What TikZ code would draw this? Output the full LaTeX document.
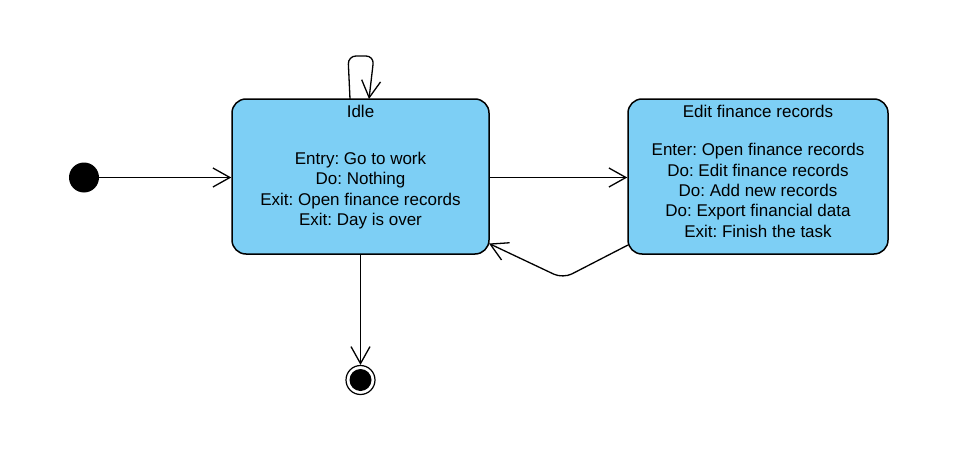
\documentclass[tikz,border=0pt]{standalone}
\usepackage{fontspec}
\setmainfont{Liberation Sans}
\usetikzlibrary{arrows.meta}
\definecolor{stateblue}{RGB}{125,207,245}
\tikzset{
  statebox/.style={draw=black, line width=1.5pt, fill=stateblue, rounded corners=14pt, minimum width=257pt, minimum height=155pt, inner sep=0pt},
  txt/.style={font=\frenchspacing\fontsize{17}{20.3}\selectfont, align=center, inner sep=0pt, anchor=base},
  body/.style={font=\frenchspacing\fontsize{17}{20.3}\selectfont, align=center, inner sep=0pt},
  trans/.style={draw=black, line width=1.3pt, -{Straight Barb[length=17pt,width=19pt,line width=1.3pt]}}
}
\begin{document}
\begin{tikzpicture}[x=1pt,y=-1pt]
\useasboundingbox (0,0) rectangle (978,471);
% states
\node[statebox] (idle) at (360.5,176.5) {};
\node[statebox, minimum width=260pt] (edit) at (758,176.5) {};
\node[txt] (idletitle) at (360.5,117) {Idle};
\node[body] (idlebody) at (360.5,190.5) {Entry: Go to work\\Do: Nothing\\Exit: Open finance records\\Exit: Day is over};
\node[txt] (edittitle) at (758,117) {Edit finance records};
\node[body] (editbody) at (758,190.5) {Enter: Open finance records\\Do: Edit finance records\\Do: Add new records\\Do: Export financial data\\Exit: Finish the task};
% initial and final
\node[circle, fill=black, minimum size=30pt, inner sep=0pt] (init) at (84,177.5) {};
\node[circle, draw=black, line width=1.2pt, fill=white, minimum size=29pt, inner sep=0pt] (final) at (360.5,380) {};
\node[circle, fill=black, minimum size=22pt, inner sep=0pt] (finalin) at (360.5,380) {};
% transitions
\draw[trans] (init) -- (idle.west |- init);
\draw[trans] (idle.east |- init) -- (edit.west |- init);
\draw[trans] (idle.south) -- (final.north);
\coordinate (loopA) at (350,99);
\coordinate (loopB) at (369,99);
\draw[trans, rounded corners=8pt] (loopA) -- (348,56) -- (374,56) -- (loopB);
\coordinate (retA) at (628,245);
\coordinate (retB) at (489,243.5);
\draw[trans, rounded corners=10pt] (retA) -- (563,278.5) -- (retB);
\end{tikzpicture}
\end{document}
